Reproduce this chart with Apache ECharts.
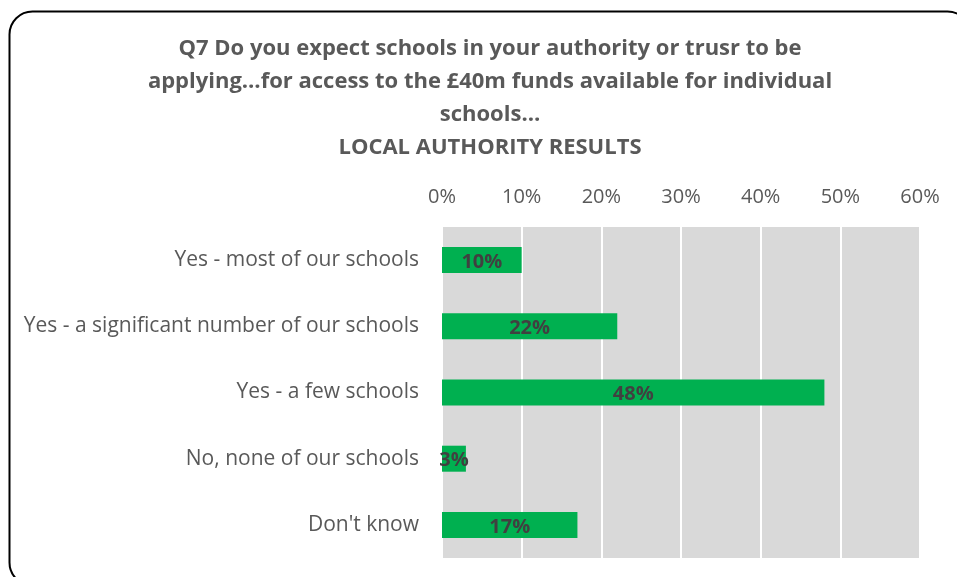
<!DOCTYPE html>
<html>
<head>
<meta charset="utf-8">
<script src="https://cdn.jsdelivr.net/npm/echarts@6/dist/echarts.min.js"></script>
<style>
  html, body { margin: 0; padding: 0; background: #fff; }
  #chart { width: 957px; height: 577px; }
</style>
</head>
<body>
<div id="chart"></div>
<script>
// Survey answers, top to bottom
const categories = [
  'Yes - most of our schools',
  'Yes - a significant number of our schools',
  'Yes - a few schools',
  'No, none of our schools',
  "Don't know"
];
// Share of respondents (%)
const shares = [10, 22, 48, 3, 17];
// Value axis ticks (%)
const axisMin = 0;
const axisMax = 60;
const axisStep = 10;

const titleLines = [
  'Q7 Do you expect schools in your authority or trusr to be',
  'applying…for access to the £40m funds available for individual',
  'schools…',
  'LOCAL AUTHORITY RESULTS'
];

const FONT = 'Open Sans';

const chart = echarts.init(document.getElementById('chart'), null, { renderer: 'canvas' });

chart.setOption({
  animation: false,
  backgroundColor: '#ffffff',
  title: {
    text: titleLines.join('\n'),
    left: 485,
    top: 27,
    textAlign: 'center',
    textStyle: {
      fontFamily: FONT,
      fontWeight: 'bold',
      fontSize: 22,
      lineHeight: 33,
      color: '#595959'
    }
  },
  graphic: [{
    // rounded chart frame; its right and bottom edges run past the canvas
    type: 'rect',
    silent: true,
    shape: { x: 9.5, y: 11.5, width: 961, height: 574, r: 23 },
    style: { fill: 'none', stroke: '#000000', lineWidth: 2 },
    z: 100
  }],
  grid: {
    left: 442,
    right: 37,
    top: 227,
    bottom: 19,
    show: true,
    backgroundColor: '#D9D9D9',
    borderWidth: 0
  },
  xAxis: {
    type: 'value',
    position: 'top',
    min: axisMin,
    max: axisMax,
    interval: axisStep,
    axisLine: { show: false },
    axisTick: { show: false },
    axisLabel: {
      formatter: '{value}%',
      fontFamily: FONT,
      fontSize: 20,
      color: '#595959',
      margin: 20
    },
    splitLine: { show: true, lineStyle: { color: '#ffffff', width: 2 } }
  },
  yAxis: {
    type: 'category',
    data: categories,
    inverse: true,
    axisLine: { show: false },
    axisTick: { show: false },
    axisLabel: {
      fontFamily: FONT,
      fontSize: 21,
      color: '#595959',
      margin: 23,
      lineHeight: 30,
      padding: [6, 0, 0, 0]
    }
  },
  series: [{
    type: 'bar',
    data: shares,
    barWidth: 26,
    itemStyle: { color: '#00B050' },
    label: {
      show: true,
      position: 'inside',
      offset: [0, 2],
      formatter: '{c}%',
      fontFamily: FONT,
      fontWeight: 'bold',
      fontSize: 20,
      color: '#404040'
    }
  }]
});
</script>
</body>
</html>
